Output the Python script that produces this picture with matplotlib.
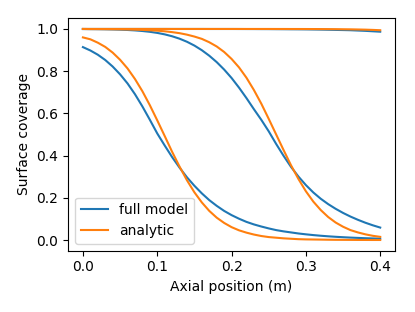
import matplotlib
matplotlib.use("Agg")
import matplotlib.pyplot as plt

# axial positions (m), every 0.01 m
z = [0.00, 0.01, 0.02, 0.03, 0.04, 0.05, 0.06, 0.07, 0.08, 0.09,
     0.10, 0.11, 0.12, 0.13, 0.14, 0.15, 0.16, 0.17, 0.18, 0.19,
     0.20, 0.21, 0.22, 0.23, 0.24, 0.25, 0.26, 0.27, 0.28, 0.29,
     0.30, 0.31, 0.32, 0.33, 0.34, 0.35, 0.36, 0.37, 0.38, 0.39, 0.40]

# full model (blue)
full_1 = [0.914, 0.898, 0.878, 0.853, 0.822, 0.785, 0.742, 0.691, 0.633, 0.570,
          0.505, 0.448, 0.393, 0.343, 0.297, 0.257, 0.221, 0.189, 0.162, 0.138,
          0.118, 0.101, 0.086, 0.074, 0.064, 0.055, 0.047, 0.041, 0.036, 0.031,
          0.027, 0.0234, 0.0203, 0.0176, 0.0153, 0.0133, 0.0115, 0.0100, 0.0086, 0.0075, 0.0065]
full_2 = [0.9995, 0.9992, 0.9989, 0.9984, 0.9977, 0.9967, 0.9952, 0.9932, 0.9903, 0.9865,
          0.9813, 0.9744, 0.9654, 0.9539, 0.9393, 0.9213, 0.8993, 0.8732, 0.8429, 0.8077,
          0.7677, 0.7221, 0.6726, 0.6201, 0.5695, 0.5150, 0.4551, 0.3989, 0.3464, 0.3005,
          0.2602, 0.2253, 0.1955, 0.1701, 0.1480, 0.1284, 0.1111, 0.0958, 0.0820, 0.0698, 0.0590]
full_3 = [1.000, 1.000, 1.000, 1.000, 1.000, 1.000, 1.000, 1.000, 1.000, 1.000,
          1.000, 1.000, 0.9999, 0.9999, 0.9999, 0.9999, 0.9999, 0.9998, 0.9998, 0.9998,
          0.9998, 0.9997, 0.9996, 0.9995, 0.9993, 0.9992, 0.999, 0.9988, 0.9985, 0.9983,
          0.998, 0.9975, 0.997, 0.9963, 0.9955, 0.9948, 0.994, 0.9925, 0.991, 0.989, 0.987]

# analytic (orange)
anal_1 = [0.960, 0.951, 0.935, 0.915, 0.888, 0.854, 0.813, 0.763, 0.705, 0.639,
          0.567, 0.493, 0.418, 0.348, 0.283, 0.226, 0.178, 0.138, 0.106, 0.081,
          0.061, 0.046, 0.035, 0.026, 0.019, 0.014, 0.011, 0.008, 0.006, 0.004,
          0.003, 0.0025, 0.002, 0.0014, 0.001, 0.0008, 0.0006, 0.0004, 0.0003, 0.0002, 0.0002]
anal_2 = [1.000, 0.9994, 0.9993, 0.999, 0.9986, 0.9982, 0.9975, 0.9967, 0.9955, 0.994,
          0.992, 0.989, 0.985, 0.980, 0.973, 0.964, 0.953, 0.937, 0.917, 0.891,
          0.858, 0.818, 0.769, 0.711, 0.646, 0.574, 0.500, 0.426, 0.354, 0.289,
          0.231, 0.182, 0.142, 0.109, 0.083, 0.063, 0.047, 0.036, 0.027, 0.020, 0.015]
anal_3 = [1.000, 1.000, 1.000, 1.000, 1.000, 1.000, 1.000, 1.000, 1.000, 1.000,
          1.000, 1.000, 1.000, 1.000, 1.000, 1.000, 1.000, 1.000, 1.000, 1.000,
          1.000, 1.000, 1.000, 1.000, 1.000, 1.000, 0.9999, 0.9999, 0.9998, 0.9998,
          0.9997, 0.9996, 0.9994, 0.9992, 0.999, 0.9986, 0.9982, 0.9975, 0.9967, 0.9955, 0.994]

fig = plt.figure(figsize=(4.15, 3.12), dpi=100)
ax = fig.add_axes([0.164, 0.197, 0.788, 0.744])

for i, y in enumerate([full_1, full_2, full_3]):
    ax.plot(z, y, color="C0", label="full model" if i == 0 else None)
for i, y in enumerate([anal_1, anal_2, anal_3]):
    ax.plot(z, y, color="C1", label="analytic" if i == 0 else None)

ax.set_xlabel("Axial position (m)")
ax.set_ylabel("Surface coverage")
ax.set_xticks([0.0, 0.1, 0.2, 0.3, 0.4])
ax.legend(loc="lower left")

fig.savefig("out.png", dpi=100)
